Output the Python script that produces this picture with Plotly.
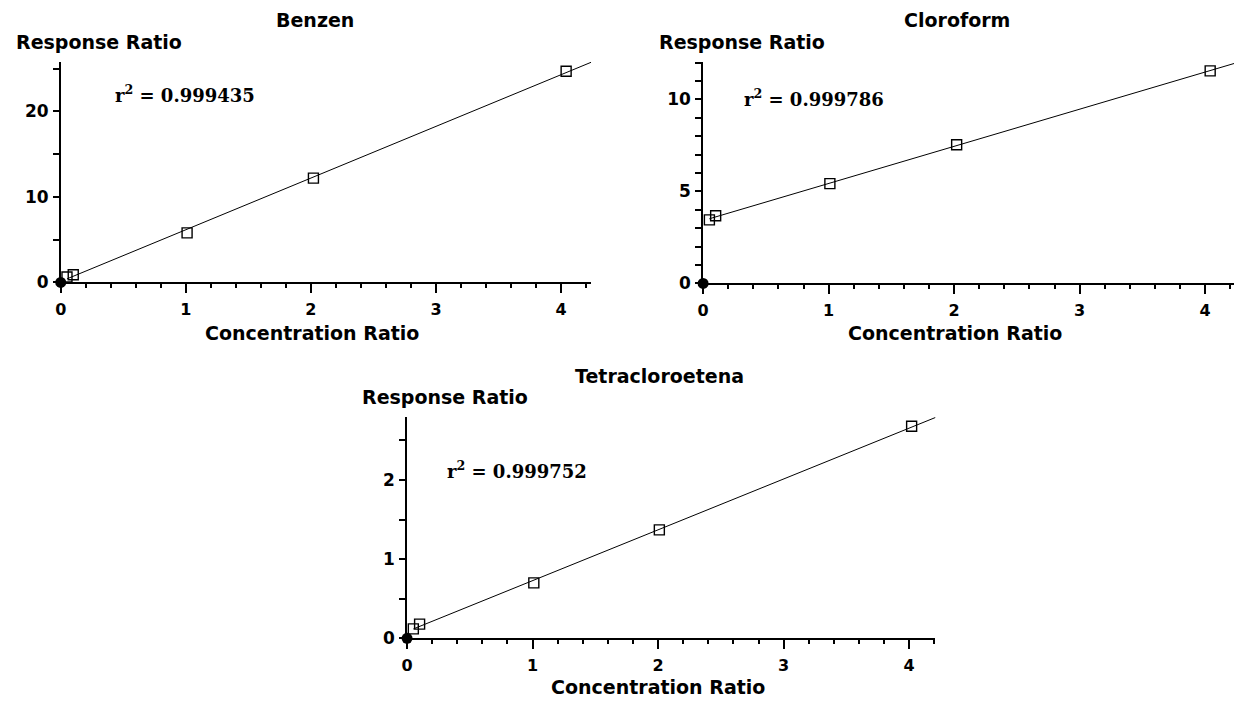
import numpy as np
import plotly.graph_objects as go

# ---------------- data ----------------
compounds = ["Benzen", "Cloroform", "Tetracloroetena"]
r2_values = ["0.999435", "0.999786", "0.999752"]

benzen_conc = [0.05, 0.10, 1.01, 2.02, 4.04]
benzen_resp = [0.63, 0.90, 5.80, 12.20, 24.70]

cloroform_conc = [0.05, 0.10, 1.01, 2.02, 4.04]
cloroform_resp = [3.45, 3.68, 5.42, 7.53, 11.55]

tetra_conc = [0.05, 0.10, 1.01, 2.01, 4.02]
tetra_resp = [0.12, 0.18, 0.70, 1.37, 2.68]

x_max = [4.24, 4.23, 4.21]
y_max = [25.8, 12.04, 2.80]
y_major = [10, 5, 1]
y_minor = [5, 1, 0.5]
x_major = 1
x_minor = 0.2

series = [(benzen_conc, benzen_resp), (cloroform_conc, cloroform_resp), (tetra_conc, tetra_resp)]

# ---------------- layout (pixels) ----------------
W, H = 1240, 706
# left, right, top, bottom of each plot area
boxes = [(55.0, 588.0, 62.7, 286.5), (700.5, 1234.0, 62.7, 287.5), (403.0, 934.0, 422.7, 647.5)]
title_pos = [(311, 20.7), (956, 20.7), (657, 381.5)]
ylab_pos = [(8.5, 42.5), (654.5, 42.5), (356, 402.5)]
xlab_pos = [(307, 337.5), (954, 337.5), (655, 697.0)]
r2_pos = [(108, 95), (740, 99), (441, 476.7)]

SANS = "DejaVu Sans"
SERIF = "DejaVu Serif"

def px(x):
    return x / W

def py(y):
    return 1 - y / H

fig = go.Figure()
layout = dict(
    width=W, height=H,
    margin=dict(l=0, r=0, t=0, b=0),
    paper_bgcolor="white", plot_bgcolor="white",
    showlegend=False,
    annotations=[],
)

for i, ((conc, resp), (l, r, t, b)) in enumerate(zip(series, boxes)):
    suffix = "" if i == 0 else str(i + 1)
    xref = "x" + suffix
    yref = "y" + suffix

    slope, intercept = np.polyfit(conc, resp, 1)
    line_x = np.array([min(conc), x_max[i]])
    line_y = slope * line_x + intercept

    fig.add_trace(go.Scatter(x=line_x, y=line_y, mode="lines",
                             line=dict(color="black", width=1),
                             xaxis=xref, yaxis=yref, hoverinfo="skip"))
    fig.add_trace(go.Scatter(x=conc, y=resp, mode="markers",
                             marker=dict(symbol="square-open", size=10, color="black",
                                         line=dict(width=1.4, color="black")),
                             xaxis=xref, yaxis=yref, cliponaxis=False))
    fig.add_trace(go.Scatter(x=[0], y=[0], mode="markers",
                             marker=dict(symbol="circle", size=11, color="black"),
                             xaxis=xref, yaxis=yref, cliponaxis=False))

    layout["xaxis" + suffix] = dict(
        domain=[px(l), px(r)], range=[0, x_max[i]], anchor=yref,
        showline=True, linecolor="black", linewidth=1.5,
        ticks="outside", ticklen=9, tickwidth=1.5, tickcolor="black",
        tick0=0, dtick=x_major,
        minor=dict(dtick=x_minor, tick0=0, ticks="outside", ticklen=4,
                   tickwidth=1.5, tickcolor="black", showgrid=False),
        showgrid=False, zeroline=False,
        tickfont=dict(family=SANS, size=16, color="black", weight="bold"),
        ticklabelstandoff=3,
    )
    layout["yaxis" + suffix] = dict(
        domain=[py(b), py(t)], range=[0, y_max[i]], anchor=xref,
        showline=True, linecolor="black", linewidth=1.5,
        ticks="outside", ticklen=6, tickwidth=1.5, tickcolor="black",
        tick0=0, dtick=y_major[i],
        minor=dict(dtick=y_minor[i], tick0=0, ticks="outside", ticklen=6,
                   tickwidth=1.5, tickcolor="black", showgrid=False),
        showgrid=False, zeroline=False,
        tickfont=dict(family=SANS, size=17, color="black", weight="bold"),
        ticklabelstandoff=1,
    )

    tx, ty = title_pos[i]
    layout["annotations"].append(dict(
        text=compounds[i], x=px(tx), y=py(ty), xref="paper", yref="paper",
        xanchor="center", yanchor="middle", showarrow=False,
        font=dict(family=SANS, size=19, color="black", weight="bold")))
    lx, ly = ylab_pos[i]
    layout["annotations"].append(dict(
        text="Response Ratio", x=px(lx), y=py(ly), xref="paper", yref="paper",
        xanchor="left", yanchor="middle", showarrow=False,
        font=dict(family=SANS, size=19, color="black", weight="bold")))
    cx, cy = xlab_pos[i]
    layout["annotations"].append(dict(
        text="Concentration Ratio", x=px(cx), y=py(cy), xref="paper", yref="paper",
        xanchor="center", yanchor="middle", showarrow=False,
        font=dict(family=SANS, size=19, color="black", weight="bold")))
    rx, ry = r2_pos[i]
    layout["annotations"].append(dict(
        text="r<sup>2</sup> = " + r2_values[i], x=px(rx), y=py(ry), xref="paper", yref="paper",
        xanchor="left", yanchor="middle", showarrow=False,
        font=dict(family=SERIF, size=18, color="black", weight="bold")))

fig.update_layout(**layout)
fig.write_html("out.html", config={"displayModeBar": False},
               post_script="document.body.style.margin='0';")
